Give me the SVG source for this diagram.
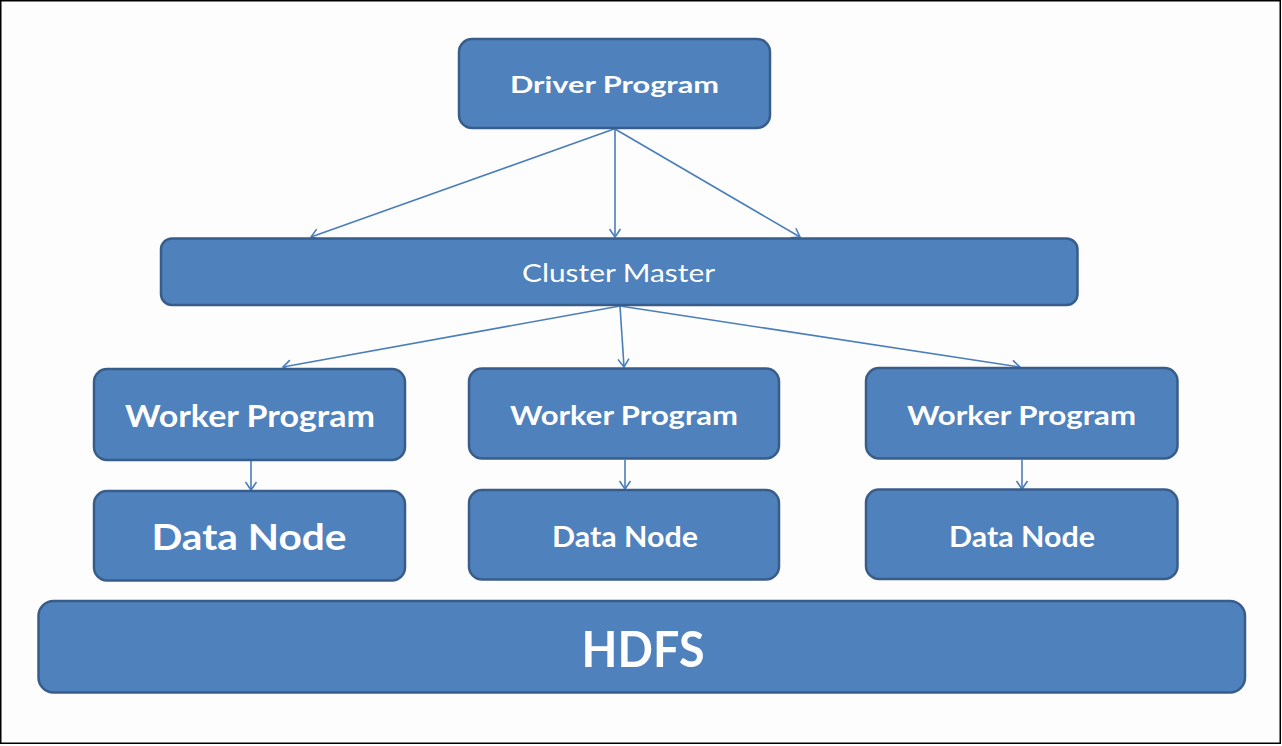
<svg xmlns="http://www.w3.org/2000/svg" width="1282" height="746" viewBox="0 0 1282 746">
<defs>
<marker id="arr" markerUnits="userSpaceOnUse" markerWidth="16" markerHeight="16" refX="0" refY="0" viewBox="-10 -8 12 16" orient="auto">
<path d="M -8 -5.5 L 0 0 L -8 5.5" fill="none" stroke="#4A7EBB" stroke-width="1.6"/>
</marker>
</defs>
<style>
.box{fill:#4F81BD;stroke:#385D8A;stroke-width:2.5}
.t{fill:#FFFFFF;font-family:Lato,"Open Sans","Liberation Sans",sans-serif;font-weight:bold;text-anchor:middle}
.r{font-weight:normal}
.c{fill:none;stroke:#4A7EBB;stroke-width:1.6;marker-end:url(#arr)}
</style>
<rect x="0" y="0" width="1282" height="746" fill="#FDFDFD"/>
<rect x="0.75" y="0.75" width="1279.5" height="742.5" fill="none" stroke="#000" stroke-width="1.5"/>
<g id="connectors">
<line class="c" x1="614" y1="129" x2="311" y2="237"/>
<line class="c" x1="615" y1="129" x2="615" y2="237"/>
<line class="c" x1="615" y1="129" x2="800" y2="237"/>
<line class="c" x1="620" y1="306" x2="283" y2="367"/>
<line class="c" x1="620" y1="306" x2="624" y2="367"/>
<line class="c" x1="620" y1="306" x2="1020" y2="367"/>
<line class="c" x1="251" y1="461" x2="251" y2="490"/>
<line class="c" x1="625" y1="460" x2="625" y2="489"/>
<line class="c" x1="1022" y1="460" x2="1022" y2="489"/>
</g>
<g id="driver">
<rect class="box" x="459" y="39" width="311" height="89" rx="13"/>
<text class="t" x="614.5" y="93" font-size="23" textLength="209" lengthAdjust="spacingAndGlyphs">Driver Program</text>
</g>
<g id="cluster">
<rect class="box" x="161" y="238.5" width="916.5" height="66.5" rx="11"/>
<text class="t r" x="618.5" y="281.5" font-size="25" textLength="193" lengthAdjust="spacingAndGlyphs">Cluster Master</text>
</g>
<g id="worker1">
<rect class="box" x="94" y="369" width="311" height="91" rx="13"/>
<text class="t" x="250" y="426.5" font-size="30" textLength="250" lengthAdjust="spacingAndGlyphs">Worker Program</text>
</g>
<g id="worker2">
<rect class="box" x="469" y="368.5" width="310" height="90" rx="13"/>
<text class="t" x="624" y="424.5" font-size="27" textLength="228" lengthAdjust="spacingAndGlyphs">Worker Program</text>
</g>
<g id="worker3">
<rect class="box" x="866" y="368" width="311.5" height="90.5" rx="13"/>
<text class="t" x="1021.5" y="424.5" font-size="27" textLength="229" lengthAdjust="spacingAndGlyphs">Worker Program</text>
</g>
<g id="data1">
<rect class="box" x="94" y="491" width="311" height="89.5" rx="13"/>
<text class="t" x="249" y="550" font-size="37" textLength="195" lengthAdjust="spacingAndGlyphs">Data Node</text>
</g>
<g id="data2">
<rect class="box" x="469" y="490" width="310" height="89.5" rx="13"/>
<text class="t" x="625" y="546.5" font-size="28" textLength="146" lengthAdjust="spacingAndGlyphs">Data Node</text>
</g>
<g id="data3">
<rect class="box" x="866" y="489.5" width="311.5" height="89.5" rx="13"/>
<text class="t" x="1022" y="546.5" font-size="28" textLength="146" lengthAdjust="spacingAndGlyphs">Data Node</text>
</g>
<g id="hdfs">
<rect class="box" x="38.5" y="601" width="1206.5" height="91.5" rx="15"/>
<text class="t" x="643" y="666.5" font-size="50" textLength="123" lengthAdjust="spacingAndGlyphs">HDFS</text>
</g>
</svg>
